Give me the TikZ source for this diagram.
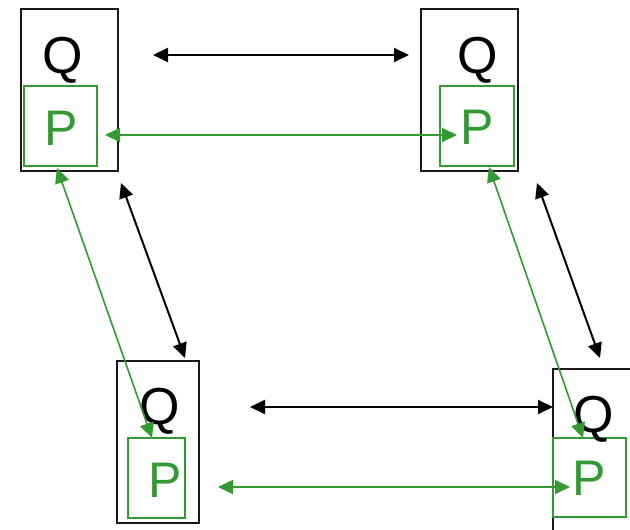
\documentclass[tikz,border=0pt]{standalone}
\usepackage{fontspec}
\setmainfont{Liberation Sans}
\usetikzlibrary{arrows.meta}
\definecolor{pgreen}{RGB}{51,153,51}
\begin{document}
\begin{tikzpicture}[x=1pt,y=-1pt,
  qbox/.style={draw=black!90,line width=1.7pt,inner sep=0pt,rectangle},
  pbox/.style={draw=pgreen,line width=1.5pt,inner sep=0pt,rectangle},
  qtxt/.style={anchor=base,inner sep=0pt,font=\fontsize{52}{52}\selectfont,text=black},
  ptxt/.style={anchor=base,inner sep=0pt,font=\fontsize{50}{50}\selectfont,text=pgreen},
  barrow/.style={draw=black,line width=2pt,{Triangle[length=15pt,width=14pt]}-{Triangle[length=15pt,width=14pt]}},
  garrow/.style={draw=pgreen,line width=1.6pt,{Triangle[length=15pt,width=14pt]}-{Triangle[length=15pt,width=14pt]}}]
\useasboundingbox (0,0) rectangle (630,530);
\clip (0,0) rectangle (630,530);
% boxes
\node[qbox,minimum width=97pt,minimum height=162pt] (q1) at (69.5,90) {};
\node[pbox,minimum width=73pt,minimum height=80pt] (p1) at (60.5,126) {};
\node[qbox,minimum width=97pt,minimum height=162pt] (q2) at (469.5,90) {};
\node[pbox,minimum width=74pt,minimum height=80pt] (p2) at (477,126) {};
\node[qbox,minimum width=82pt,minimum height=162pt] (q3) at (158,442) {};
\node[pbox,minimum width=57pt,minimum height=80pt] (p3) at (156.5,478) {};
\node[qbox,minimum width=97pt,minimum height=162pt] (q4) at (601.5,450) {};
\node[pbox,minimum width=73pt,minimum height=79pt] (p4) at (589.5,477.5) {};
% texts
\node[qtxt] (tq1) at (62.5,73) {Q};
\node[ptxt] (tp1) at (61,145) {P};
\node[qtxt] (tq2) at (477.5,73) {Q};
\node[ptxt] (tp2) at (477,144) {P};
\node[qtxt] (tq3) at (159.5,424) {Q};
\node[ptxt] (tp3) at (165,497) {P};
\node[qtxt] (tq4) at (594,432) {Q};
\node[ptxt] (tp4) at (589.5,495) {P};
% arrow end points
\coordinate (a1) at (153,55);  \coordinate (a2) at (409,55);
\coordinate (b1) at (105,135); \coordinate (b2) at (457,135);
\coordinate (c1) at (250,407); \coordinate (c2) at (553,407);
\coordinate (d1) at (218,487); \coordinate (d2) at (570,487);
\coordinate (e1) at (121,183); \coordinate (e2) at (185,358);
\coordinate (f1) at (57,168);  \coordinate (f2) at (152,438);
\coordinate (g1) at (537,183); \coordinate (g2) at (600,358);
\coordinate (h1) at (489,167); \coordinate (h2) at (583,438);
% arrows
\draw[barrow] (a1) -- (a2);
\draw[garrow] (b1) -- (b2);
\draw[barrow] (c1) -- (c2);
\draw[garrow] (d1) -- (d2);
\draw[barrow] (e1) -- (e2);
\draw[garrow] (f1) -- (f2);
\draw[barrow] (g1) -- (g2);
\draw[garrow] (h1) -- (h2);
\end{tikzpicture}
\end{document}
